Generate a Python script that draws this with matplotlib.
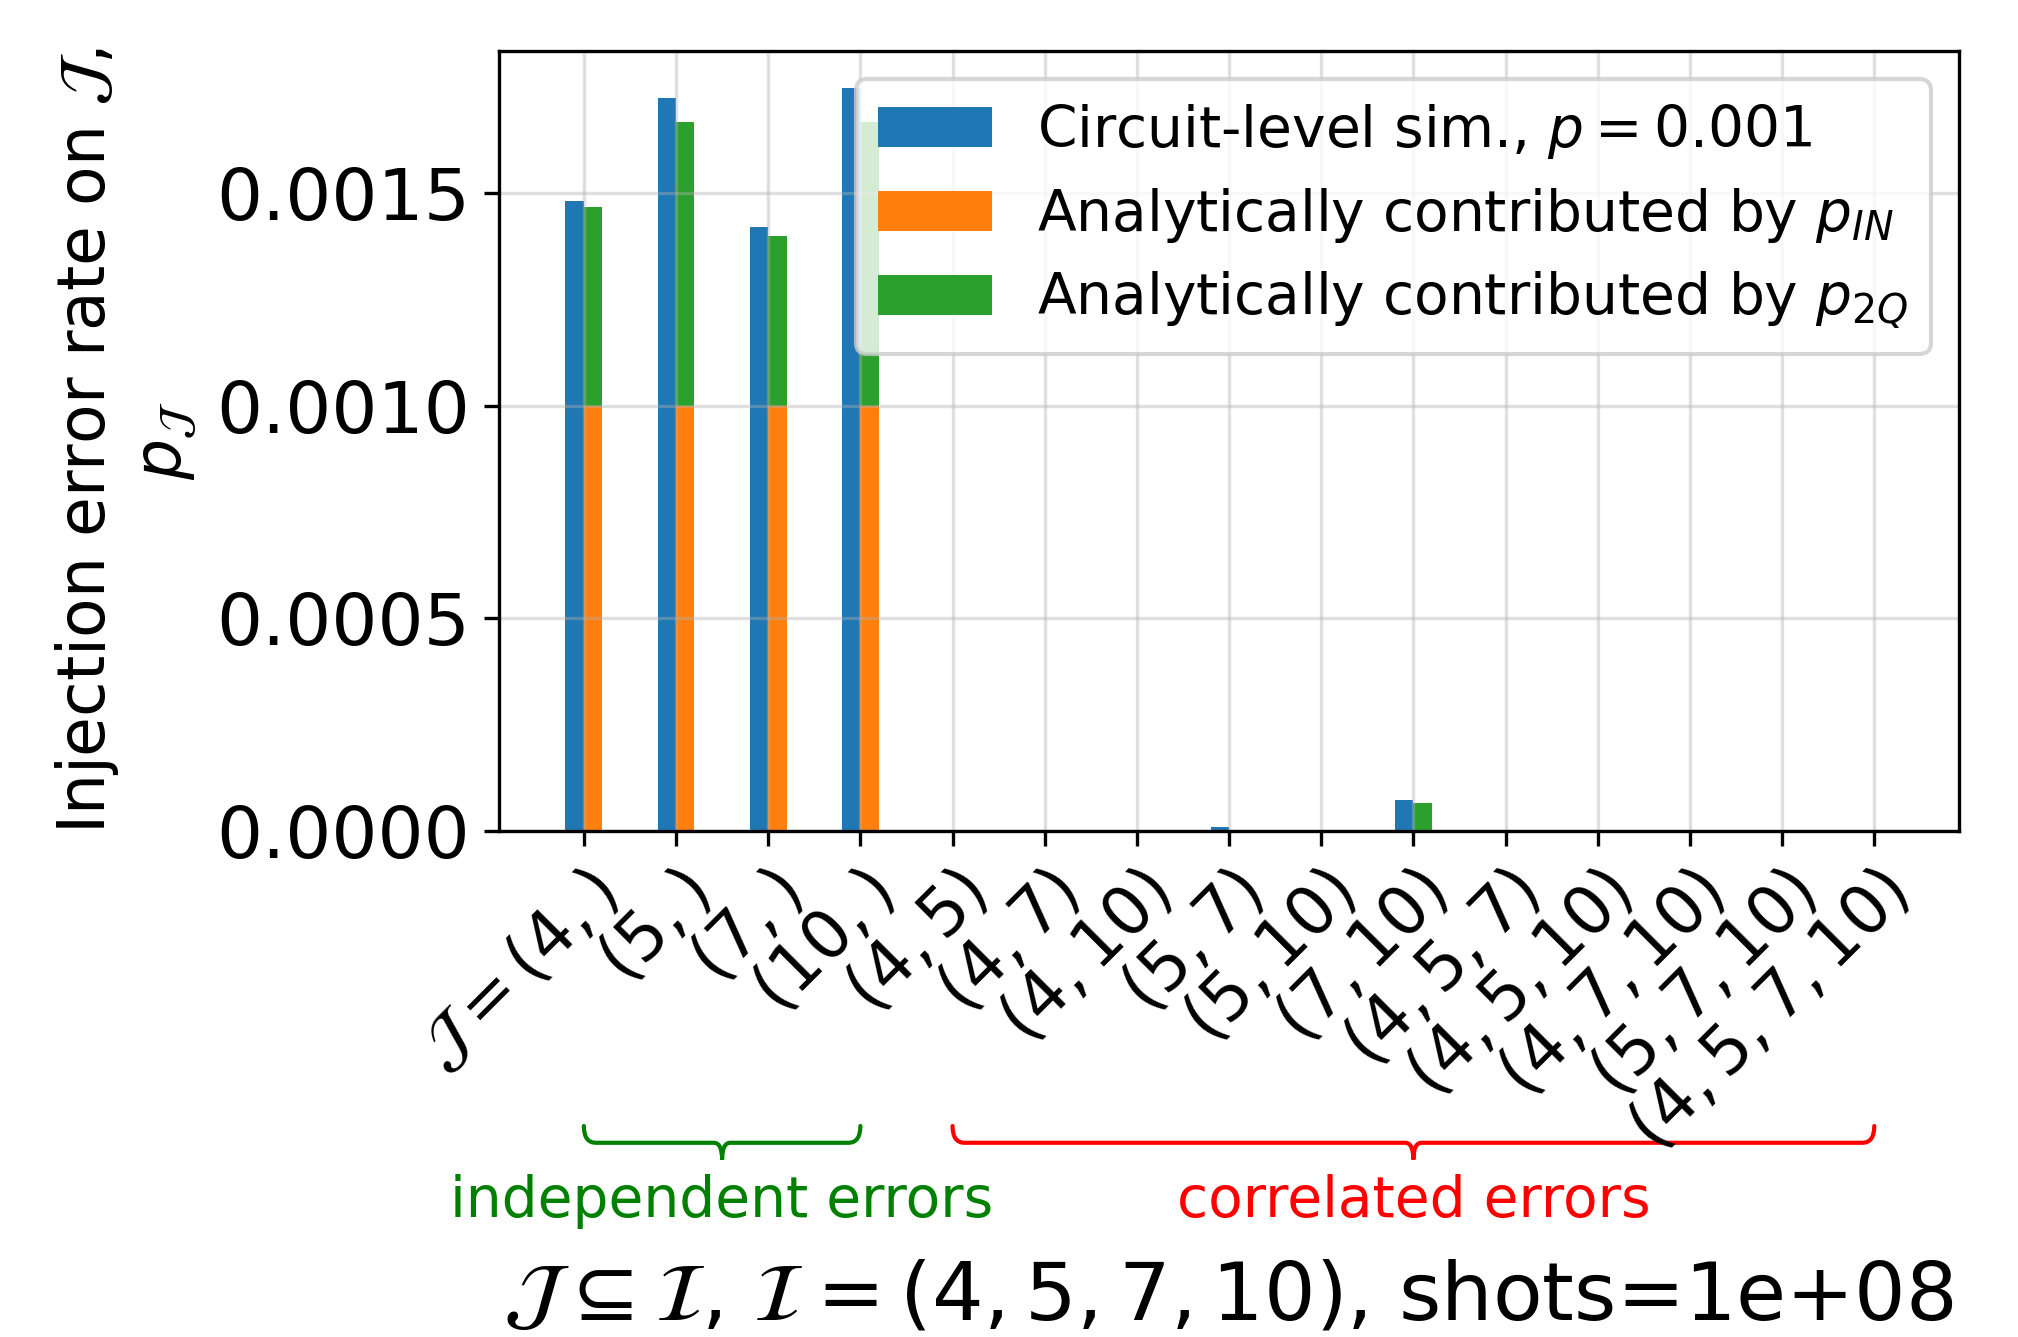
import numpy as np
from matplotlib import pyplot as plt
from matplotlib.path import Path
from matplotlib.patches import PathPatch
from matplotlib.transforms import blended_transform_factory

# subsets J of I = (4, 5, 7, 10)
subsets = [(4,), (5,), (7,), (10,), (4, 5), (4, 7), (4, 10), (5, 7), (5, 10),
           (7, 10), (4, 5, 7), (4, 5, 10), (4, 7, 10), (5, 7, 10), (4, 5, 7, 10)]

# circuit-level simulation, p = 0.001
sim_rate = [0.001482, 0.001724, 0.001421, 0.001748, 0.0, 0.0, 0.0, 0.0000094,
            0.0, 0.0000710, 0.0, 0.0, 0.0, 0.0, 0.0]
# analytical contributions
p_in_rate = [0.001, 0.001, 0.001, 0.001, 0, 0, 0, 0, 0, 0, 0, 0, 0, 0, 0]
p_2q_rate = [0.000468, 0.000668, 0.0004, 0.000668, 0.0, 0.0, 0.0, 0.0,
             0.0, 0.0000640, 0.0, 0.0, 0.0, 0.0, 0.0]

BAR_W = 0.2


def draw_brace(ax, x0, x1, color):
    # curly brace under the axis, x in data units, y in axes units
    trans = blended_transform_factory(ax.transData, ax.transAxes)
    y_top, y_mid, y_tip = -0.379, -0.4005, -0.422
    r, r2 = 0.13, 0.09
    xc = (x0 + x1) / 2
    verts = [(x0, y_top), (x0, y_mid), (x0 + r, y_mid),
             (xc - r2, y_mid), (xc, y_mid), (xc, y_tip),
             (xc, y_mid), (xc + r2, y_mid),
             (x1 - r, y_mid), (x1, y_mid), (x1, y_top)]
    codes = [Path.MOVETO, Path.CURVE3, Path.CURVE3,
             Path.LINETO, Path.CURVE3, Path.CURVE3,
             Path.CURVE3, Path.CURVE3,
             Path.LINETO, Path.CURVE3, Path.CURVE3]
    patch = PathPatch(Path(verts, codes), transform=trans, fill=False,
                      edgecolor=color, lw=1.0, clip_on=False, capstyle='round')
    ax.add_patch(patch)


if __name__ == '__main__':
    fig = plt.figure(figsize=(2018 / 300, 1337 / 300), dpi=300)
    ax = fig.add_subplot(111)
    fig.subplots_adjust(left=0.2473, right=0.9708, top=0.9619, bottom=0.3788)

    x = np.arange(len(subsets))
    ax.bar(x - BAR_W / 2, sim_rate, BAR_W, color='C0',
           label=r'Circuit-level sim., $p=0.001$')
    ax.bar(x + BAR_W / 2, p_in_rate, BAR_W, color='C1',
           label=r'Analytically contributed by $p_{IN}$')
    ax.bar(x + BAR_W / 2, p_2q_rate, BAR_W, bottom=p_in_rate, color='C2',
           label=r'Analytically contributed by $p_{2Q}$')

    labels = ['$' + str(s) + '$' for s in subsets]
    labels[0] = r'$\mathcal{J}=' + str(subsets[0]) + '$'
    ax.set_xticks(x)
    ax.set_xticklabels(labels, fontsize=16, rotation=45, ha='right',
                       rotation_mode='anchor')
    ax.tick_params(axis='y', labelsize=17.4)
    ax.set_yticks([0, 0.0005, 0.001, 0.0015])
    ax.grid(alpha=0.4)

    ax.set_ylabel('Injection error rate on $\\mathcal{J}$,\n$p_\\mathcal{J}$',
                  fontsize=15.5)
    ax.legend(loc='upper right', fontsize=13.6, labelspacing=0.44)

    draw_brace(ax, 0, 3, 'green')
    draw_brace(ax, 4, 14, 'red')
    ax.text(1.5, -0.4955, 'independent errors', color='green', fontsize=13.6,
            ha='center', va='baseline',
            transform=blended_transform_factory(ax.transData, ax.transAxes))
    ax.text(9, -0.4955, 'correlated errors', color='red', fontsize=13.6,
            ha='center', va='baseline',
            transform=blended_transform_factory(ax.transData, ax.transAxes))

    ax.text(0.5, -0.6267,
            r'$\mathcal{J} \subseteq \mathcal{I}$, $\mathcal{I}=(4, 5, 7, 10)$, shots=1e+08',
            fontsize=19.5, ha='center', va='baseline', transform=ax.transAxes)

    fig.savefig('out.png', dpi=300)
